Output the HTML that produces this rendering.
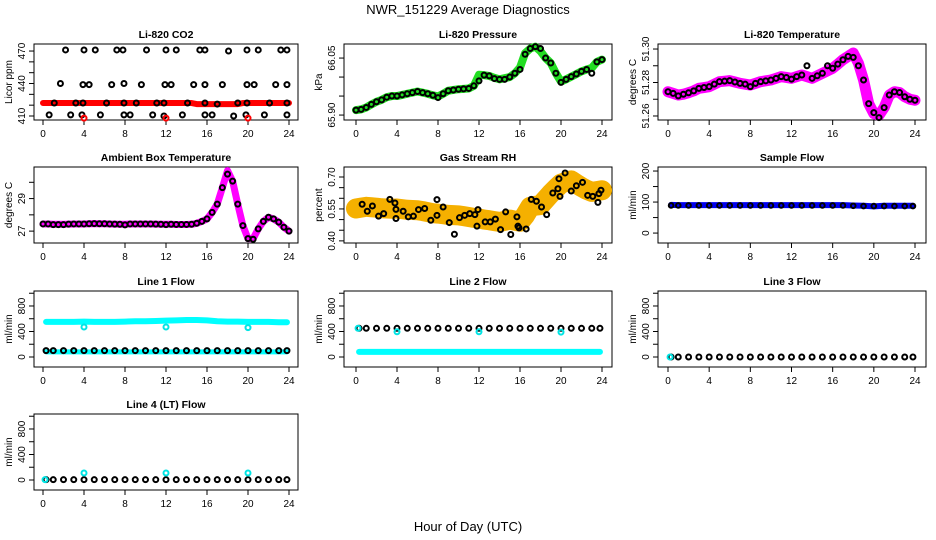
<!DOCTYPE html>
<html><head><meta charset="utf-8"><style>
body{margin:0;background:#fff}
svg{display:block;font-family:"Liberation Sans",Arial,sans-serif}
</style></head><body>
<svg id="c" width="936" height="540" viewBox="0 0 936 540" xmlns="http://www.w3.org/2000/svg">
<text x="468" y="14" text-anchor="middle" font-size="13">NWR_151229  Average Diagnostics</text>
<text x="468" y="531" text-anchor="middle" font-size="13">Hour of Day (UTC)</text>
</svg>
<script>
const xTicks=[0,4,8,12,16,20,24];
const halfHours=[0,0.5,1,1.5,2,2.5,3,3.5,4,4.5,5,5.5,6,6.5,7,7.5,8,8.5,9,9.5,10,10.5,11,11.5,12,12.5,13,13.5,14,14.5,15,15.5,16,16.5,17,17.5,18,18.5,19,19.5,20,20.5,21,21.5,22,22.5,23,23.5,24];
const hours=[0.3,1,2,3,4,5,6,7,8,9,10,11,12,13,14,15,16,17,18,19,20,21,22,23,23.8];
// CO2
const co2Red=[422,422,422,422,422,422,422,422,422,422,422,422,422,422,422,422,422,422,422,422,422,422,422,422,422,422,422,422,422,422,421,421,421,421,421,421,421,421,421,422,422,422,422,422,422,422,422,422,422];
const co2RedOutX=[4,12,20];
const co2RedOutY=[408,408,408];
const co2BlackX=[2.2,4,5.1,7.2,7.8,10.1,12,13,15.3,15.8,18.1,19.9,21,23.2,23.8,1.7,3.9,4.5,6.7,7.9,9.6,11.9,12.5,14.7,15.8,17.5,19.9,20.6,22.7,23.8,1.1,3.2,3.9,6.2,7.9,9.1,11.1,11.8,14.1,15.8,17.0,19.0,19.9,22.1,23.8,0.6,2.7,3.8,5.6,7.9,8.5,10.7,11.8,13.6,15.8,16.5,18.6,19.8,21.6,23.8];
const co2BlackY=[471,471,471,471,471,471,471,471,471,471,470,471,471,471,471,440,439,439,439,440,439,439,439,439,439,439,439,439,439,439,422,422,422,422,422,422,422,422,422,422,421,422,422,422,422,411,411,411,411,411,411,411,410,411,411,411,410,411,411,411];
// Pressure
const presGreen=[65.913,65.915,65.92,65.928,65.935,65.94,65.947,65.95,65.95,65.953,65.956,65.959,65.962,65.959,65.956,65.952,65.949,65.956,65.964,65.966,65.968,65.969,65.97,65.977,66.006,66.005,66.003,65.998,65.994,65.997,66.0,66.01,66.025,66.063,66.075,66.08,66.068,66.05,66.037,66.01,65.988,65.994,66.001,66.008,66.015,66.02,66.024,66.04,66.046];
const presBlack=[65.913,65.915,65.92,65.928,65.935,65.94,65.947,65.95,65.95,65.953,65.956,65.959,65.962,65.959,65.956,65.952,65.946,65.956,65.964,65.966,65.968,65.969,65.97,65.977,65.99,66.005,66.003,65.996,65.994,65.994,66.0,66.01,66.02,66.06,66.075,66.08,66.075,66.05,66.037,66.01,65.986,65.994,66.001,66.008,66.015,66.02,66.01,66.04,66.046];
// Temperature
const tempMag=[51.2745,51.2735,51.2725,51.273,51.2739,51.275,51.2765,51.277,51.2775,51.279,51.2805,51.2808,51.2811,51.2803,51.2795,51.279,51.2785,51.2795,51.2805,51.281,51.2815,51.2825,51.2835,51.283,51.2825,51.2835,51.2845,51.2835,51.2825,51.284,51.2855,51.287,51.2885,51.291,51.2936,51.2956,51.2976,51.2916,51.2815,51.2674,51.2614,51.2604,51.265,51.2725,51.2745,51.274,51.2715,51.27,51.2694];
const tempBlack=[51.2745,51.2735,51.272,51.273,51.2739,51.275,51.2765,51.277,51.2775,51.279,51.2805,51.2808,51.2811,51.2803,51.2795,51.279,51.2775,51.2795,51.2805,51.281,51.2815,51.2825,51.2835,51.283,51.282,51.2835,51.2845,51.29,51.2825,51.284,51.2855,51.29,51.2885,51.291,51.2936,51.2956,51.295,51.29,51.2815,51.2674,51.262,51.259,51.265,51.2725,51.2745,51.274,51.2715,51.27,51.2694];
// Ambient box temperature
const ambMag=[27.44,27.44,27.42,27.42,27.42,27.43,27.44,27.44,27.44,27.45,27.46,27.45,27.45,27.44,27.43,27.42,27.42,27.44,27.44,27.44,27.44,27.44,27.43,27.42,27.42,27.42,27.41,27.41,27.41,27.42,27.48,27.6,27.75,28.15,28.66,29.67,30.72,30.07,28.66,27.34,26.54,26.54,27.14,27.6,27.85,27.75,27.55,27.24,27.0];
const ambBlack=[27.44,27.44,27.4,27.4,27.4,27.43,27.44,27.44,27.44,27.45,27.46,27.45,27.45,27.44,27.43,27.42,27.38,27.44,27.44,27.44,27.44,27.44,27.43,27.42,27.4,27.42,27.41,27.41,27.41,27.42,27.48,27.6,27.75,28.15,28.66,29.67,30.5,30.07,28.66,27.34,26.54,26.5,27.14,27.6,27.85,27.75,27.55,27.24,27.0];
// Gas stream RH
const rhBand=[0.552,0.556,0.56,0.558,0.556,0.553,0.552,0.551,0.552,0.549,0.546,0.545,0.544,0.54,0.535,0.53,0.528,0.525,0.522,0.521,0.52,0.516,0.512,0.508,0.505,0.5,0.497,0.493,0.489,0.494,0.5,0.495,0.49,0.52,0.56,0.565,0.568,0.595,0.622,0.646,0.669,0.677,0.684,0.668,0.653,0.64,0.63,0.634,0.638];
const rhBlackX=[0.6,1.1,1.6,2.2,2.7,3.3,3.8,3.9,3.9,4.6,5.1,5.6,6.1,6.7,7.3,7.9,7.9,8.5,9.1,9.6,10.1,10.6,11.1,11.6,11.8,11.9,12.6,13.1,13.6,14.1,14.6,15.1,15.7,15.8,15.9,16.6,17.1,17.6,18.1,18.6,19.2,19.7,19.8,19.9,20.4,21.0,21.5,22.1,22.6,23.1,23.6,23.7,23.9];
const rhBlackY=[0.572,0.539,0.564,0.516,0.528,0.595,0.578,0.505,0.548,0.539,0.513,0.516,0.547,0.552,0.497,0.594,0.52,0.559,0.486,0.431,0.509,0.52,0.528,0.523,0.469,0.547,0.489,0.489,0.502,0.453,0.536,0.43,0.513,0.469,0.461,0.456,0.595,0.586,0.559,0.523,0.625,0.645,0.692,0.609,0.719,0.634,0.659,0.675,0.614,0.609,0.581,0.622,0.638];
// Flows (hourly)
const sampleBlue=[91,90,90,90,90,90,90,90,90,90,90,90,90,90,90,90,90,90,89,88,86,88,88,88,88];
const sampleBlack=[89,89,89,89,89,89,89,89,89,89,89,89,89,89,89,89,89,89,88,87,87,87,87,87,87];
const line1Top=[550,550,550,550,555,550,550,550,555,560,560,565,570,575,580,580,575,560,555,555,550,550,550,545,545];
const line1Low=[80,80,80,80,80,80,80,80,80,80,80,80,80,80,80,80,80,80,80,80,80,80,80,80,80];
const line1Black=[100,100,100,100,100,100,100,100,100,100,100,100,100,100,100,100,100,100,100,100,100,100,100,100,100];
const line1OutX=[4,12,20];
const line1OutY=[470,470,460];
const line2Cyan=[80,80,80,80,80,80,80,80,80,80,80,80,80,80,80,80,80,80,80,80,80,80,80,80,80];
const line2Black=[450,450,450,450,450,450,450,450,450,450,450,450,450,450,450,450,450,450,450,450,450,450,450,450,450];
const line2OutX=[0.2,4,12,20];
const line2OutY=[450,395,395,390];
const line3Black=[0,0,0,0,0,0,0,0,0,0,0,0,0,0,0,0,0,0,0,0,0,0,0,0,0];
const line4Black=[5,5,5,5,5,5,5,5,5,5,5,5,5,5,5,5,5,5,5,5,5,5,5,5,5];
const line4OutX=[0.2,4,12,20];
const line4OutY=[5,110,110,110];

const NS="http://www.w3.org/2000/svg";
const svg=document.getElementById('c');
function mk(tag,attrs,parent){const e=document.createElementNS(NS,tag);for(const k in attrs)e.setAttribute(k,attrs[k]);(parent||svg).appendChild(e);return e;}
const cols=[{x0:34,x1:298,h0:43,h24:289},{x0:344,x1:612,h0:356,h24:602},{x0:658,x1:926,h0:668,h24:915}];
const rows=[44,167,291,414];
const H=76;

function panel(name,title,col,row,lo,hi,ticks,labels,ytitle){
  const c=cols[col],top=rows[row],bot=top+H;
  const g=mk('g',{});
  
  
  const xs=h=>c.h0+(h/24)*(c.h24-c.h0);
  const ys=v=>bot-(v-lo)/(hi-lo)*H;
  const t=mk('text',{x:(c.x0+c.x1)/2,y:top-6,'text-anchor':'middle','font-size':10.5,'font-weight':'bold'},g);
  t.textContent=title;
  
  
  const f=mk('rect',{x:c.x0,y:top,width:c.x1-c.x0,height:H,fill:'none',stroke:'#000','stroke-width':1},g);
  
  
  xTicks.forEach(h=>{
    mk('line',{x1:xs(h),x2:xs(h),y1:bot,y2:bot+5,stroke:'#000'},g);
    const l=mk('text',{x:xs(h),y:bot+17,'text-anchor':'middle','font-size':10},g);
    l.textContent=h;
    
    
  });
  ticks.forEach(v=>{mk('line',{x1:c.x0-5,x2:c.x0,y1:ys(v),y2:ys(v),stroke:'#000'},g);});
  labels.forEach(v=>{
    const l=mk('text',{x:c.x0-9,y:ys(v),'text-anchor':'middle','font-size':10,transform:`rotate(-90 ${c.x0-9} ${ys(v)})`},g);
    l.textContent=v;
    
    
  });
  const yt=mk('text',{x:c.x0-22,y:(top+bot)/2,'text-anchor':'middle','font-size':10,transform:`rotate(-90 ${c.x0-22} ${(top+bot)/2})`},g);
  yt.textContent=ytitle;
  
  
  const clip='clip'+name;
  const cp=mk('clipPath',{id:clip},g);mk('rect',{x:c.x0,y:top-4,width:c.x1-c.x0,height:H+6},cp);
  const pg=mk('g',{'clip-path':`url(#${clip})`},g);
  return {
    band(xArr,yArr,color,w,nm){
      const p=mk('polyline',{points:xArr.map((h,i)=>xs(h)+','+ys(yArr[i])).join(' '),fill:'none',stroke:color,'stroke-width':w,'stroke-linejoin':'round','stroke-linecap':'round'},pg);
      
      
    },
    pts(xArr,yArr,color,r,nm){
      xArr.forEach((h,i)=>{
        const e=mk('circle',{cx:xs(h),cy:ys(yArr[i]),r:r,fill:'none',stroke:color,'stroke-width':2},pg);
        
        
      });
    }
  };
}
let p;
p=panel('co2-panel','Li-820 CO2',0,0,406.3,476.5,[410,420,430,440,450,460,470],[410,440,470],'Licor ppm');
p.band(halfHours,co2Red,'#f00',6,'co2-series');
p.pts(co2BlackX,co2BlackY,'#000',2.5,'co2-point');
p.pts(co2RedOutX,co2RedOutY,'#f00',2.5,'co2-outlier');

p=panel('pressure-panel','Li-820 Pressure',1,0,65.887,66.087,[65.90,65.95,66.00,66.05],['65.90','66.05'],'kPa');
p.band(halfHours,presGreen,'#22dd22',8,'pressure-series');
p.pts(halfHours,presBlack,'#000',2.5,'pressure-point');

p=panel('temperature-panel','Li-820 Temperature',2,0,51.2576,51.303,[51.26,51.27,51.28,51.29,51.30],['51.26','51.28','51.30'],'degrees C');
p.band(halfHours,tempMag,'#ff00ff',11,'temperature-series');
p.pts(halfHours,tempBlack,'#000',2.5,'temperature-point');

p=panel('ambient-panel','Ambient Box Temperature',0,1,26.27,30.94,[27,28,29,30],[27,29],'degrees C');
p.band(halfHours,ambMag,'#ff00ff',7,'ambient-series');
p.pts(halfHours,ambBlack,'#000',2.5,'ambient-point');

p=panel('rh-panel','Gas Stream RH',1,1,0.39,0.747,[0.40,0.45,0.50,0.55,0.60,0.65,0.70],['0.40','0.55','0.70'],'percent');
p.band(halfHours,rhBand,'#f5b000',20,'rh-series');
p.pts(rhBlackX,rhBlackY,'#000',2.5,'rh-point');

p=panel('sample-flow-panel','Sample Flow',2,1,-32,213,[0,50,100,150,200],[0,100,200],'ml/min');
p.band(hours,sampleBlue,'#0000ee',6,'sample-flow-series');
p.pts(hours,sampleBlack,'#000',2.3,'sample-flow-point');

p=panel('line1-flow-panel','Line 1 Flow',0,2,-157,1035,[0,200,400,600,800,1000],[0,400,800],'ml/min');
p.band(hours,line1Top,'#00ffff',6,'line1-top-series');
p.band(hours,line1Low,'#00ffff',5,'line1-low-series');
p.pts(hours,line1Black,'#000',2.5,'line1-point');
p.pts(line1OutX,line1OutY,'#00e5e5',2.5,'line1-outlier');

p=panel('line2-flow-panel','Line 2 Flow',1,2,-157,1035,[0,200,400,600,800,1000],[0,400,800],'ml/min');
p.band(hours,line2Cyan,'#00ffff',6,'line2-series');
p.pts(hours,line2Black,'#000',2.5,'line2-point');
p.pts(line2OutX,line2OutY,'#00e5e5',2.5,'line2-outlier');

p=panel('line3-flow-panel','Line 3 Flow',2,2,-157,1035,[0,200,400,600,800,1000],[0,400,800],'ml/min');
p.pts(hours,line3Black,'#000',2.5,'line3-point');
p.pts([0.2],[0],'#00e5e5',2.5,'line3-outlier');

p=panel('line4-flow-panel','Line 4 (LT) Flow',0,3,-157,1035,[0,200,400,600,800,1000],[0,400,800],'ml/min');
p.pts(hours,line4Black,'#000',2.5,'line4-point');
p.pts(line4OutX,line4OutY,'#00e5e5',2.5,'line4-outlier');
</script>
</body></html>
